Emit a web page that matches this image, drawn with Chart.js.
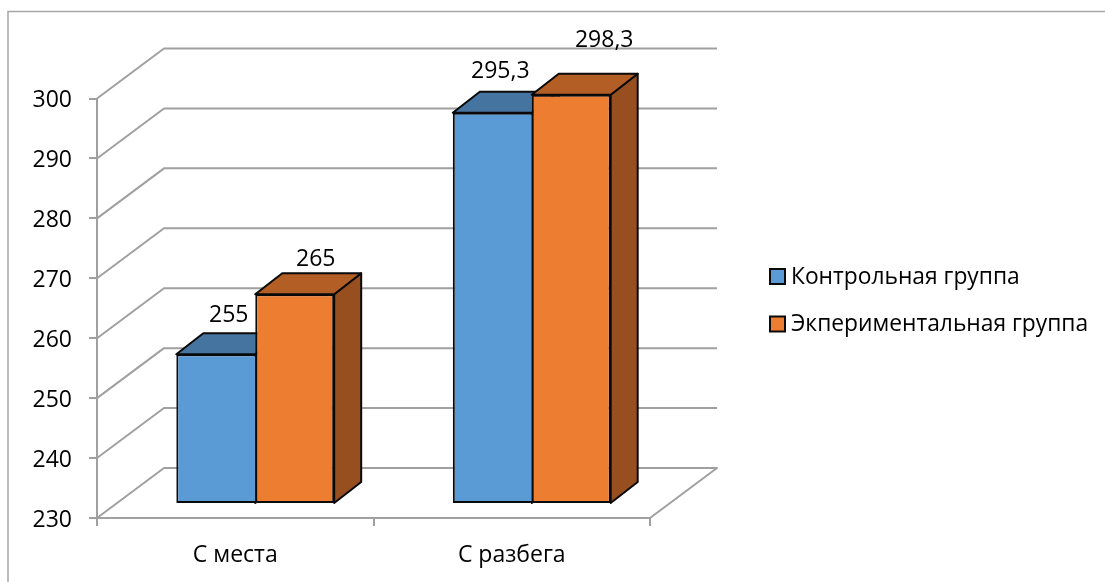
<!DOCTYPE html>
<html lang="ru">
<head>
<meta charset="utf-8">
<title>Прыжки в длину</title>
<script src="https://cdn.jsdelivr.net/npm/chart.js@4"></script>
<style>
  html, body { margin: 0; padding: 0; background: #fff; }
  canvas { display: block; }
</style>
</head>
<body>
<canvas id="chart" width="1105" height="582"></canvas>
<script>
// Values
const categories = ['С места', 'С разбега'];
const controlName = 'Контрольная группа';
const experimentName = 'Экпериментальная группа';
const controlValues = [255, 295.3];
const experimentValues = [265, 298.3];
const axisMin = 230;
const axisMax = 300;
const axisStep = 10;

// Drawing constants
const FONT = '"Open Sans", "Noto Sans", sans-serif';
const TEXT_SIZE = 23;
const LEGEND_SIZE = 22.8;
const GRID = '#A0A0A0';
const WALL = { dx: 67, dy: -50 };     // depth of the back wall
const SHIFT = { dx: 20, dy: -14 };    // bars stand partway into the floor
const BAR = { dx: 27, dy: -21 };      // depth of each column
const FACES = [
  { front: '#5B9BD5', top: '#4674A1', side: '#3F6A94' },
  { front: '#ED7D31', top: '#B35E24', side: '#974F1F' }
];
// Hand-placed data labels, relative to the column's front top edge
const LABEL_NUDGE = [
  [{ x: 13, y: -39 }, { x: 8, y: -41 }],
  [{ x: 21, y: -35 }, { x: 33, y: -54 }]
];

function poly(ctx, pts, fill) {
  ctx.beginPath();
  pts.forEach((p, i) => (i ? ctx.lineTo(p[0], p[1]) : ctx.moveTo(p[0], p[1])));
  ctx.closePath();
  ctx.fillStyle = fill;
  ctx.fill();
  ctx.strokeStyle = '#0A0A0A';
  ctx.lineWidth = 2;
  ctx.lineJoin = 'round';
  ctx.stroke();
}

// Nudges tick text down so digits sit centred on their tick
function lowerTickText(scale, dy) {
  const base = scale.getLabelItems.bind(scale);
  scale.getLabelItems = area => base(area).map(item => ({ ...item, textOffset: item.textOffset + dy }));
}

const scene = {
  id: 'scene',
  // outer frame of the chart object
  beforeDraw(chart) {
    const { ctx } = chart;
    ctx.save();
    ctx.strokeStyle = '#A6A6A6';
    ctx.lineWidth = 1.5;
    ctx.beginPath();
    ctx.moveTo(8, 582);
    ctx.lineTo(8, 11.5);
    ctx.lineTo(1105, 11.5);
    ctx.stroke();
    ctx.restore();
  },
  // back wall gridlines, floor, then the top and side faces of all columns
  beforeDatasetsDraw(chart) {
    const { ctx, scales: { x, y } } = chart;
    const l = x.left, r = x.right;
    ctx.save();
    ctx.strokeStyle = GRID;
    ctx.lineWidth = 2;
    ctx.lineJoin = 'round';
    y.ticks.forEach(t => {
      const py = y.getPixelForValue(t.value);
      ctx.beginPath();
      ctx.moveTo(l, py);
      ctx.lineTo(l + WALL.dx, py + WALL.dy);
      ctx.lineTo(r + WALL.dx, py + WALL.dy);
      if (t.value === axisMin) ctx.lineTo(r, py);
      ctx.stroke();
    });
    ctx.translate(SHIFT.dx, SHIFT.dy);
    chart.data.datasets.forEach((ds, d) => {
      const c = FACES[d];
      chart.getDatasetMeta(d).data.forEach(bar => {
        const w = bar.width / 2;
        const xl = bar.x - w, xr = bar.x + w, yt = bar.y, yb = bar.base;
        poly(ctx, [[xr, yb], [xr + BAR.dx, yb + BAR.dy], [xr + BAR.dx, yt + BAR.dy], [xr, yt]], c.side);
        poly(ctx, [[xl, yt], [xl + BAR.dx, yt + BAR.dy], [xr + BAR.dx, yt + BAR.dy], [xr, yt]], c.top);
      });
    });
    ctx.restore();
  },
  // the library's own bars become the front faces, moved onto the floor
  beforeDatasetDraw(chart) {
    chart.ctx.save();
    chart.ctx.translate(SHIFT.dx, SHIFT.dy);
  },
  afterDatasetDraw(chart) {
    chart.ctx.restore();
  },
  // data labels and legend
  afterDraw(chart) {
    const { ctx } = chart;
    ctx.save();
    ctx.fillStyle = '#000';
    ctx.font = TEXT_SIZE + 'px ' + FONT;
    ctx.textAlign = 'center';
    ctx.textBaseline = 'middle';
    chart.data.datasets.forEach((ds, d) => {
      chart.getDatasetMeta(d).data.forEach((bar, i) => {
        const n = LABEL_NUDGE[d][i];
        ctx.fillText(String(ds.data[i]).replace('.', ','),
          bar.x + SHIFT.dx + n.x, bar.y + SHIFT.dy + n.y);
      });
    });
    ctx.textAlign = 'left';
    ctx.font = LEGEND_SIZE + 'px ' + FONT;
    chart.data.datasets.forEach((ds, d) => {
      const cy = 276.5 + d * 47.5;
      ctx.fillStyle = FACES[d].front;
      ctx.strokeStyle = '#0A0A0A';
      ctx.lineWidth = 2;
      ctx.fillRect(770, cy - 7.5, 15, 15);
      ctx.strokeRect(770, cy - 7.5, 15, 15);
      ctx.fillStyle = '#000';
      ctx.fillText(ds.label, 791, cy + 1);
    });
    ctx.restore();
  }
};

new Chart(document.getElementById('chart'), {
  type: 'bar',
  plugins: [scene],
  data: {
    labels: categories,
    datasets: [
      {
        label: controlName,
        data: controlValues,
        base: axisMin,
        backgroundColor: FACES[0].front,
        borderColor: '#0A0A0A',
        borderWidth: { top: 2, left: 2, bottom: 2, right: 0 },
        borderSkipped: false,
        clip: false
      },
      {
        label: experimentName,
        data: experimentValues,
        base: axisMin,
        backgroundColor: FACES[1].front,
        borderColor: '#0A0A0A',
        borderWidth: 2,
        borderSkipped: false,
        clip: false
      }
    ]
  },
  options: {
    responsive: false,
    animation: false,
    events: [],
    datasets: { bar: { categoryPercentage: 0.571, barPercentage: 1 } },
    layout: { padding: { left: 0, top: 98.5, right: 455, bottom: 0 } },
    plugins: { legend: { display: false }, tooltip: { enabled: false }, title: { display: false } },
    scales: {
      x: {
        afterFit(s) { s.height = 64; },
        grid: { offset: true, drawOnChartArea: false, color: GRID, lineWidth: 2, tickLength: 8 },
        border: { color: GRID, width: 2 },
        ticks: { color: '#000', padding: 16, maxRotation: 0, font: { family: FONT, size: TEXT_SIZE } }
      },
      y: {
        min: axisMin,
        max: axisMax,
        afterFit(s) { s.width = 97; },
        afterUpdate(s) { lowerTickText(s, 1); },
        grid: { drawOnChartArea: false, color: GRID, lineWidth: 2, tickLength: 8 },
        border: { color: GRID, width: 2 },
        ticks: { stepSize: axisStep, color: '#000', padding: 17, font: { family: FONT, size: TEXT_SIZE } }
      }
    }
  }
});
</script>
</body>
</html>
